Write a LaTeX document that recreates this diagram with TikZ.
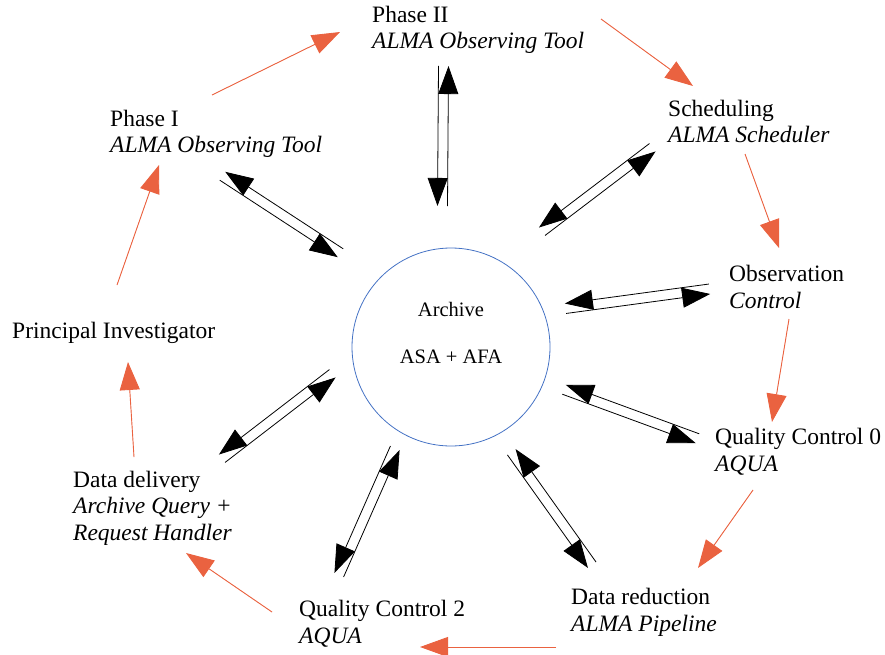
\documentclass[tikz,border=0pt]{standalone}
\usepackage{fontspec}
\setmainfont{Liberation Serif}
\usetikzlibrary{arrows.meta,calc}
\definecolor{flowred}{RGB}{234,98,64}
\definecolor{archblue}{RGB}{68,114,196}

\begin{document}
\begin{tikzpicture}[x=1pt,y=-1pt,
        lbl/.style={anchor=base west,align=left,inner sep=0pt,
            font=\fontsize{23.5}{26.5}\selectfont},
        flow/.style={draw=flowred,fill=flowred,line width=0.9pt,
            -{Triangle[length=28pt,width=20pt]}},
        link/.style={line width=0.8pt,-{Triangle[length=28pt,width=20pt]}}]
        \useasboundingbox (0,0) rectangle (885,655);

        % archive in the middle
        \node[draw=archblue,circle,line width=0.8pt,minimum size=198pt,
            inner sep=0pt] (archive) at (451,347) {};
        \node[font=\fontsize{20.5}{24}\selectfont,anchor=base,inner sep=0pt]
            (archname) at (451,316) {Archive};
        \node[font=\fontsize{20.5}{24}\selectfont,anchor=base,inner sep=0pt]
            (archparts) at (451,363) {ASA + AFA};

        % stations round the circle (placed at the last baseline)
        \node[lbl] (phase2) at (372,49) {Phase II\\\textit{ALMA Observing Tool}};
        \node[lbl] (phase1) at (110,153) {Phase I\\\textit{ALMA Observing Tool}};
        \node[lbl] (sched) at (668,143) {Scheduling\\\textit{ALMA Scheduler}};
        \node[lbl] (obs) at (729,308) {Observation\\\textit{Control}};
        \node[lbl] (pi) at (12,338) {Principal Investigator};
        \node[lbl] (qc0) at (715,471) {Quality Control 0\\\textit{AQUA}};
        \node[lbl] (deliv) at (73,540)
            {Data delivery\\\textit{Archive Query +}\\\textit{Request Handler}};
        \node[lbl] (qc2) at (299,643) {Quality Control 2\\\textit{AQUA}};
        \node[lbl] (reduc) at (571,631) {Data reduction\\\textit{ALMA Pipeline}};

        % ends of the workflow arrows
        \foreach \n/\x/\y in {
            s1/117/285, e1/159/165,
            s2/212/95,  e2/340/32,
            s3/601/19,  e3/693/86,
            s4/745/154, e4/779/248,
            s5/789/319, e5/772/422,
            s6/753/490, e6/698/568,
            s7/556/647, e7/420/647,
            s8/272/612, e8/186/553,
            s9/134/457, e9/128/362} {
          \coordinate (\n) at (\x,\y);
        }

        % \draw workflow arrows
        \foreach \i in {1,...,9} {
          \draw[flow] (s\i) -- (e\i);
        }

        % ends of the archive links (a: archive side, b: station side)
        \foreach \n/\x/\y in {
            a1/340.5/253,  b1/222.5/176,
            a2/442.5/206,  b2/443.5/66,
            a3/542/231.5,  b3/652.5/147.5,
            a4/565.5/308.5, b4/709.5/289,
            a5/564/389.5,  b5/697.5/438.5,
            a6/511.5/452,  b6/592/565,
            a7/395/448,    b7/339/575,
            a8/332.5/373.5, b8/222/458.5} {
          \coordinate (\n) at (\x,\y);
        }

        % \draw two-way links to the archive
        \foreach \i in {1,...,8} {
          \draw[link] ($(a\i)!5pt!-90:(b\i)$) -- ($(b\i)!5pt!90:(a\i)$);
          \draw[link] ($(b\i)!5pt!-90:(a\i)$) -- ($(a\i)!5pt!90:(b\i)$);
        }
    \end{tikzpicture}
\end{document}
